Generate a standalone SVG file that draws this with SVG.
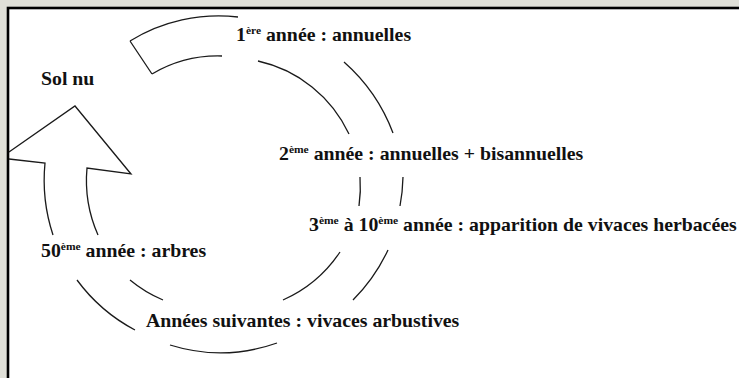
<svg xmlns="http://www.w3.org/2000/svg" width="739" height="378" viewBox="0 0 739 378">
<style>
text{font-family:'Liberation Serif','DejaVu Serif',serif;font-weight:700;font-size:18px;fill:#111}
.sup{font-size:10.5px}
.ln{fill:none;stroke:#1a1a1a;stroke-width:1.3;stroke-linejoin:miter}
</style>
<rect width="739" height="378" fill="#e0e0d8"/>
<rect x="8" y="8" width="745" height="385" fill="#fff" stroke="#000" stroke-width="2.6"/>
<g id="connectors" class="ln">
<path d="M152,74 A129,129 0 0 1 222,56 M130,41 L152,74 M130,41 A169,169 0 0 1 238,17"/>
<path d="M258,61 A132,132 0 0 1 349,134 M344,62 A178,178 0 0 1 393,133"/>
<path d="M360,177 A135,135 0 0 1 359,206 M403,177 A178,178 0 0 1 400,206"/>
<path d="M340,252 A134,134 0 0 1 283,300 M388,250 A177,177 0 0 1 353,300"/>
<path d="M277,343 A170,170 0 0 1 170,345"/>
<path d="M163,300 A131,131 0 0 1 130,280 M135,330 A172,172 0 0 1 77,280"/>
<path d="M53,235 A175,175 0 0 1 45,163 L9,159"/>
<path d="M98,235 A135,135 0 0 1 87,168 L131,174 L75,106 L9,152"/>
</g>
<g id="n-solnu"><text font-family="Liberation Serif, serif" transform="translate(41,85) scale(1.1,1)">Sol nu</text></g>
<g id="n-1"><text font-family="Liberation Serif, serif" transform="translate(236,41) scale(1.1,1)">1<tspan class="sup" dy="-7">ère</tspan><tspan dy="7"> année : annuelles</tspan></text></g>
<g id="n-2"><text font-family="Liberation Serif, serif" transform="translate(279,160) scale(1.1,1)">2<tspan class="sup" dy="-7">ème</tspan><tspan dy="7"> année : annuelles + bisannuelles</tspan></text></g>
<g id="n-3"><text font-family="Liberation Serif, serif" transform="translate(309,231) scale(1.1,1)">3<tspan class="sup" dy="-7">ème</tspan><tspan dy="7"> à 10</tspan><tspan class="sup" dy="-7">ème</tspan><tspan dy="7"> année : apparition de vivaces herbacées</tspan></text></g>
<g id="n-50"><text font-family="Liberation Serif, serif" transform="translate(41,257) scale(1.1,1)">50<tspan class="sup" dy="-7">ème</tspan><tspan dy="7"> année : arbres</tspan></text></g>
<g id="n-suiv"><text font-family="Liberation Serif, serif" transform="translate(146,327) scale(1.1,1)">Années suivantes : vivaces arbustives</text></g>
</svg>
